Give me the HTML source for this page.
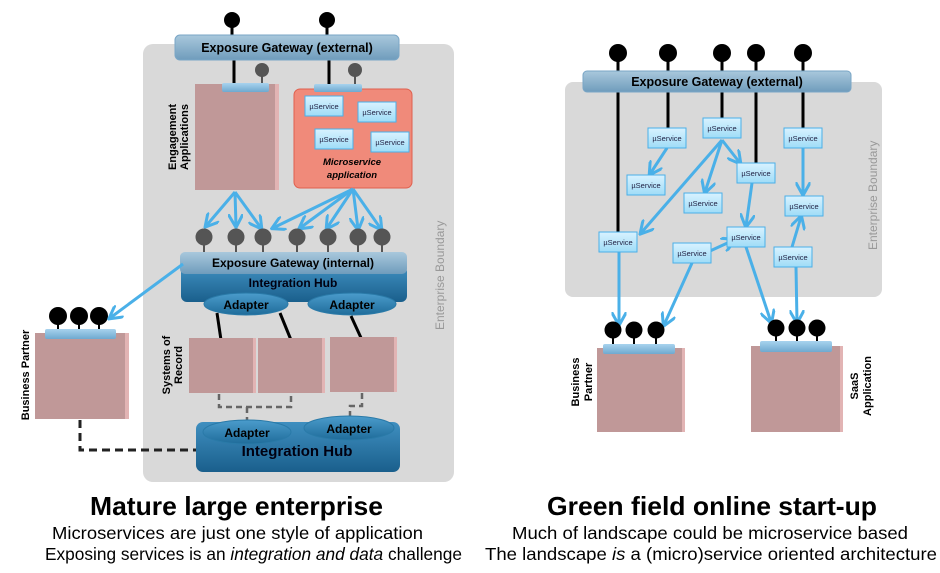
<!DOCTYPE html>
<html><head><meta charset="utf-8"><style>
html,body{margin:0;padding:0;background:#fff;}
svg{display:block;font-family:"Liberation Sans",Arial,sans-serif;}
</style></head><body>
<svg width="940" height="573" viewBox="0 0 940 573" xmlns="http://www.w3.org/2000/svg">
<defs>
<linearGradient id="gw" x1="0" y1="0" x2="0" y2="1"><stop offset="0" stop-color="#a9c8dc"/><stop offset="1" stop-color="#6f9cbc"/></linearGradient>
<linearGradient id="hub" x1="0" y1="0" x2="0" y2="1"><stop offset="0" stop-color="#3f8fc0"/><stop offset="1" stop-color="#1a5f8c"/></linearGradient>
<linearGradient id="ad" x1="0" y1="0" x2="0" y2="1"><stop offset="0" stop-color="#4b9ccc"/><stop offset="1" stop-color="#1f6c9a"/></linearGradient>
<linearGradient id="us" x1="0" y1="0" x2="0" y2="1"><stop offset="0" stop-color="#d8f2ff"/><stop offset="1" stop-color="#9fdcf7"/></linearGradient>
<linearGradient id="bar" x1="0" y1="0" x2="0" y2="1"><stop offset="0" stop-color="#a8d3ee"/><stop offset="1" stop-color="#6fa9cf"/></linearGradient>
<marker id="ar" viewBox="0 0 10 10" refX="8" refY="5" markerWidth="5" markerHeight="5" orient="auto"><path d="M0,0 L9,5 L0,10" fill="none" stroke="#4ab0e8" stroke-width="2"/></marker>
</defs>

<!-- LEFT PANEL -->
<rect x="143" y="44" width="311" height="438" rx="10" fill="#d9d9d9"/>
<text transform="translate(444,330) rotate(-90)" font-size="12" fill="#999">Enterprise Boundary</text>

<g stroke="#000" stroke-width="3"><line x1="232" y1="20" x2="232" y2="38"/><line x1="327" y1="20" x2="327" y2="38"/>
<line x1="234" y1="60" x2="234" y2="86"/><line x1="329" y1="60" x2="329" y2="86"/></g>
<circle cx="232" cy="20" r="8"/><circle cx="327" cy="20" r="8"/>
<g stroke="#555" stroke-width="2"><line x1="262" y1="70" x2="262" y2="85"/><line x1="355" y1="70" x2="355" y2="86"/></g>
<circle cx="262" cy="70" r="7" fill="#555"/><circle cx="355" cy="70" r="7" fill="#555"/>
<rect x="175" y="35" width="224" height="25" rx="5" fill="url(#gw)" stroke="#7aa6c6"/>
<text x="287" y="52" font-size="12.5" font-weight="bold" text-anchor="middle">Exposure Gateway (external)</text>

<rect x="195" y="84" width="83" height="106" fill="#c09898"/><rect x="275" y="84" width="4" height="106" fill="#e2b4b4"/>
<rect x="222" y="83" width="47" height="9" rx="2" fill="url(#bar)"/>
<text transform="translate(176,137) rotate(-90)" font-size="11" font-weight="bold" text-anchor="middle">Engagement</text>
<text transform="translate(188,137) rotate(-90)" font-size="11" font-weight="bold" text-anchor="middle">Applications</text>

<rect x="294" y="89" width="118" height="99" rx="6" fill="#f08a7a" stroke="#e0604e"/>
<rect x="314" y="84" width="48" height="8" rx="2" fill="url(#bar)"/>
<g font-size="7.5" fill="#224">
<rect x="305" y="96" width="38" height="20" fill="url(#us)" stroke="#4ab0e8"/><text x="324" y="109" text-anchor="middle">µService</text>
<rect x="358" y="102" width="38" height="20" fill="url(#us)" stroke="#4ab0e8"/><text x="377" y="115" text-anchor="middle">µService</text>
<rect x="315" y="129" width="38" height="20" fill="url(#us)" stroke="#4ab0e8"/><text x="334" y="142" text-anchor="middle">µService</text>
<rect x="371" y="132" width="38" height="20" fill="url(#us)" stroke="#4ab0e8"/><text x="390" y="145" text-anchor="middle">µService</text>
</g>
<text x="352" y="165" font-size="9.5" font-weight="bold" font-style="italic" text-anchor="middle">Microservice</text>
<text x="352" y="178" font-size="9.5" font-weight="bold" font-style="italic" text-anchor="middle">application</text>

<g stroke="#4ab0e8" stroke-width="3" fill="none" marker-end="url(#ar)">
<line x1="235" y1="192" x2="206" y2="226"/><line x1="235" y1="192" x2="236" y2="226"/><line x1="235" y1="192" x2="261" y2="228"/>
<line x1="353" y1="189" x2="273" y2="228"/><line x1="353" y1="189" x2="300" y2="228"/><line x1="353" y1="189" x2="327" y2="228"/>
<line x1="353" y1="189" x2="358" y2="229"/><line x1="353" y1="189" x2="381" y2="229"/>
</g>
<g fill="#555" stroke="#555" stroke-width="2">
<line x1="204" y1="237" x2="204" y2="255"/><line x1="236" y1="237" x2="236" y2="255"/><line x1="263" y1="237" x2="263" y2="255"/><line x1="297" y1="237" x2="297" y2="255"/><line x1="328" y1="237" x2="328" y2="255"/><line x1="358" y1="237" x2="358" y2="255"/><line x1="382" y1="237" x2="382" y2="255"/>
<circle cx="204" cy="237" r="7.5"/><circle cx="236" cy="237" r="7.5"/><circle cx="263" cy="237" r="7.5"/><circle cx="297" cy="237" r="7.5"/><circle cx="328" cy="237" r="7.5"/><circle cx="358" cy="237" r="7.5"/><circle cx="382" cy="237" r="7.5"/>
</g>

<rect x="181" y="266" width="226" height="36" rx="6" fill="url(#hub)"/>
<rect x="180" y="252" width="227" height="22" rx="5" fill="url(#gw)"/>
<text x="293" y="267" font-size="12" font-weight="bold" text-anchor="middle">Exposure Gateway (internal)</text>
<text x="293" y="287" font-size="12" font-weight="bold" text-anchor="middle" fill="#001">Integration Hub</text>
<ellipse cx="246" cy="304" rx="42" ry="11" fill="url(#ad)" stroke="#2a7aa8"/>
<ellipse cx="352" cy="304" rx="44" ry="11" fill="url(#ad)" stroke="#2a7aa8"/>
<text x="246" y="309" font-size="12" font-weight="bold" text-anchor="middle">Adapter</text>
<text x="352" y="309" font-size="12" font-weight="bold" text-anchor="middle">Adapter</text>
<g stroke="#000" stroke-width="3"><line x1="217" y1="313" x2="221" y2="340"/><line x1="280" y1="313" x2="291" y2="340"/><line x1="351" y1="316" x2="362" y2="340"/></g>

<g fill="#c09898"><rect x="189" y="338" width="65" height="55"/><rect x="258" y="338" width="65" height="55"/><rect x="330" y="337" width="65" height="55"/></g>
<g fill="#e2b4b4"><rect x="253" y="338" width="3" height="55"/><rect x="322" y="338" width="3" height="55"/><rect x="394" y="337" width="3" height="55"/></g>
<text transform="translate(170,365) rotate(-90)" font-size="11" font-weight="bold" text-anchor="middle">Systems of</text>
<text transform="translate(182,365) rotate(-90)" font-size="11" font-weight="bold" text-anchor="middle">Record</text>
<g stroke="#666" stroke-width="2.5" stroke-dasharray="6,4" fill="none">
<polyline points="219,394 219,407 291,407 291,394"/><line x1="247" y1="407" x2="247" y2="421"/>
<polyline points="362,393 362,406 350,406 350,419"/></g>

<rect x="196" y="422" width="204" height="50" rx="7" fill="url(#hub)"/>
<ellipse cx="247" cy="432" rx="44" ry="12" fill="url(#ad)" stroke="#2a7aa8"/>
<ellipse cx="349" cy="428" rx="45" ry="12" fill="url(#ad)" stroke="#2a7aa8"/>
<text x="247" y="437" font-size="12" font-weight="bold" text-anchor="middle">Adapter</text>
<text x="349" y="433" font-size="12" font-weight="bold" text-anchor="middle">Adapter</text>
<text x="297" y="456" font-size="15" font-weight="bold" text-anchor="middle" fill="#001">Integration Hub</text>

<rect x="35" y="333" width="91" height="86" fill="#c09898"/><rect x="125" y="333" width="4" height="86" fill="#e2b4b4"/>
<g stroke="#000" stroke-width="2"><line x1="58" y1="316" x2="58" y2="332"/><line x1="79" y1="316" x2="79" y2="332"/><line x1="99" y1="316" x2="99" y2="332"/></g>
<circle cx="58" cy="316" r="9"/><circle cx="79" cy="316" r="9"/><circle cx="99" cy="316" r="9"/>
<rect x="45" y="329" width="71" height="10" rx="2" fill="url(#bar)"/>
<text transform="translate(29,375) rotate(-90)" font-size="11" font-weight="bold" text-anchor="middle">Business Partner</text>
<line x1="183" y1="264" x2="110" y2="318" stroke="#4ab0e8" stroke-width="3" marker-end="url(#ar)"/>
<polyline points="80,420 80,450 196,450" stroke="#222" stroke-width="3" stroke-dasharray="8,5" fill="none"/>

<!-- RIGHT PANEL -->
<rect x="565" y="82" width="317" height="215" rx="8" fill="#d9d9d9"/>
<text transform="translate(877,250) rotate(-90)" font-size="12" fill="#999">Enterprise Boundary</text>
<g stroke="#000" stroke-width="3">
<line x1="618" y1="53" x2="618" y2="233"/><line x1="668" y1="53" x2="668" y2="128"/><line x1="722" y1="53" x2="722" y2="118"/><line x1="756" y1="53" x2="756" y2="164"/><line x1="803" y1="53" x2="803" y2="128"/></g>
<circle cx="618" cy="53" r="9"/><circle cx="668" cy="53" r="9"/><circle cx="722" cy="53" r="9"/><circle cx="756" cy="53" r="9"/><circle cx="803" cy="53" r="9"/>
<rect x="583" y="71" width="268" height="21" rx="4" fill="url(#gw)" stroke="#7aa6c6"/>
<text x="717" y="86" font-size="12.5" font-weight="bold" text-anchor="middle">Exposure Gateway (external)</text>

<g stroke="#4ab0e8" stroke-width="3" fill="none" marker-end="url(#ar)">
<line x1="722" y1="140" x2="641" y2="233"/><line x1="722" y1="140" x2="705" y2="192"/><line x1="722" y1="140" x2="740" y2="163"/>
<line x1="667" y1="148" x2="650" y2="174"/><line x1="752" y1="183" x2="746" y2="226"/><line x1="803" y1="148" x2="803" y2="194"/>
<line x1="792" y1="247" x2="801" y2="217"/><line x1="710" y1="251" x2="734" y2="240"/>
<line x1="619" y1="252" x2="619" y2="324"/><line x1="692" y1="263" x2="664" y2="325"/><line x1="746" y1="247" x2="771" y2="322"/><line x1="796" y1="267" x2="797" y2="322"/>
</g>
<g font-size="7.5" fill="#224" text-anchor="middle">
<rect x="648" y="128" width="38" height="20" fill="url(#us)" stroke="#4ab0e8"/><text x="667" y="141">µService</text>
<rect x="703" y="118" width="38" height="20" fill="url(#us)" stroke="#4ab0e8"/><text x="722" y="131">µService</text>
<rect x="627" y="175" width="38" height="20" fill="url(#us)" stroke="#4ab0e8"/><text x="646" y="188">µService</text>
<rect x="684" y="193" width="38" height="20" fill="url(#us)" stroke="#4ab0e8"/><text x="703" y="206">µService</text>
<rect x="737" y="163" width="38" height="20" fill="url(#us)" stroke="#4ab0e8"/><text x="756" y="176">µService</text>
<rect x="784" y="128" width="38" height="20" fill="url(#us)" stroke="#4ab0e8"/><text x="803" y="141">µService</text>
<rect x="785" y="196" width="38" height="20" fill="url(#us)" stroke="#4ab0e8"/><text x="804" y="209">µService</text>
<rect x="599" y="232" width="38" height="20" fill="url(#us)" stroke="#4ab0e8"/><text x="618" y="245">µService</text>
<rect x="673" y="243" width="38" height="20" fill="url(#us)" stroke="#4ab0e8"/><text x="692" y="256">µService</text>
<rect x="727" y="227" width="38" height="20" fill="url(#us)" stroke="#4ab0e8"/><text x="746" y="240">µService</text>
<rect x="774" y="247" width="38" height="20" fill="url(#us)" stroke="#4ab0e8"/><text x="793" y="260">µService</text>
</g>

<rect x="597" y="348" width="86" height="84" fill="#c09898"/><rect x="682" y="348" width="3" height="84" fill="#e2b4b4"/>
<g stroke="#000" stroke-width="2"><line x1="613" y1="330" x2="613" y2="346"/><line x1="634" y1="330" x2="634" y2="346"/><line x1="656" y1="330" x2="656" y2="346"/>
<line x1="776" y1="328" x2="776" y2="344"/><line x1="797" y1="328" x2="797" y2="344"/><line x1="817" y1="328" x2="817" y2="344"/></g>
<circle cx="613" cy="330" r="8.5"/><circle cx="634" cy="330" r="8.5"/><circle cx="656" cy="330" r="8.5"/>
<rect x="603" y="344" width="72" height="10" rx="2" fill="url(#bar)"/>
<rect x="751" y="346" width="90" height="86" fill="#c09898"/><rect x="840" y="346" width="3" height="86" fill="#e2b4b4"/>
<circle cx="776" cy="328" r="8.5"/><circle cx="797" cy="328" r="8.5"/><circle cx="817" cy="328" r="8.5"/>
<rect x="760" y="341" width="72" height="11" rx="2" fill="url(#bar)"/>
<text transform="translate(579,382) rotate(-90)" font-size="11" font-weight="bold" text-anchor="middle">Business</text>
<text transform="translate(592,382) rotate(-90)" font-size="11" font-weight="bold" text-anchor="middle">Partner</text>
<text transform="translate(858,386) rotate(-90)" font-size="11" font-weight="bold" text-anchor="middle">SaaS</text>
<text transform="translate(871,386) rotate(-90)" font-size="11" font-weight="bold" text-anchor="middle">Application</text>

<text x="90" y="515" font-size="26" font-weight="bold" textLength="293" lengthAdjust="spacingAndGlyphs">Mature large enterprise</text>
<text x="52" y="539" font-size="17.5" textLength="371" lengthAdjust="spacingAndGlyphs">Microservices are just one style of application</text>
<text x="45" y="560" font-size="17.5" textLength="417" lengthAdjust="spacingAndGlyphs">Exposing services is an <tspan font-style="italic">integration and data</tspan> challenge</text>
<text x="547" y="515" font-size="26" font-weight="bold" textLength="330" lengthAdjust="spacingAndGlyphs">Green field online start-up</text>
<text x="512" y="539" font-size="17.5" textLength="396" lengthAdjust="spacingAndGlyphs">Much of landscape could be microservice based</text>
<text x="485" y="560" font-size="17.5" textLength="452" lengthAdjust="spacingAndGlyphs">The landscape <tspan font-style="italic">is</tspan> a (micro)service oriented architecture</text>
</svg>
</body></html>
